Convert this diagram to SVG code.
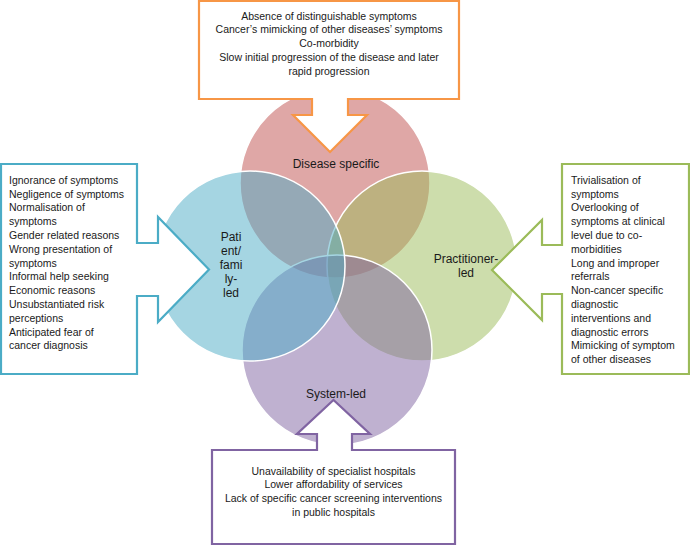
<svg xmlns="http://www.w3.org/2000/svg" width="690" height="545" viewBox="0 0 690 545">
<style>
.c{stroke:#ffffff;stroke-width:1.5}
.co{fill:#ffffff;stroke-width:2.2;stroke-linejoin:miter}
.t{font-family:"Liberation Sans",Arial,sans-serif;font-size:10.5px;fill:#1a1a1a}
.l{font-family:"Liberation Sans",Arial,sans-serif;font-size:12px;fill:#1a1a1a;text-anchor:middle}
.m{text-anchor:middle}
</style>
<rect width="690" height="545" fill="#ffffff"/>
<g id="circles">
<g id="disease-specific">
<circle class="c" cx="335" cy="183" r="95" fill="#C0504D" fill-opacity="0.5"/>
</g>
<g id="practitioner-led">
<circle class="c" cx="422" cy="266" r="95" fill="#9BBB59" fill-opacity="0.5"/>
</g>
<g id="system-led">
<circle class="c" cx="337" cy="350" r="95" fill="#8064A2" fill-opacity="0.5"/>
</g>
<g id="patient-led">
<circle class="c" cx="250" cy="266" r="95" fill="#4BACC6" fill-opacity="0.5"/>
</g>
</g>
<g id="circle-labels">
<text class="l" x="336" y="168">Disease specific</text>
<text class="l" x="231" y="241">Pati</text>
<text class="l" x="231" y="255">ent/</text>
<text class="l" x="231" y="269">fami</text>
<text class="l" x="231" y="283">ly-</text>
<text class="l" x="231" y="297">led</text>
<text class="l" x="466" y="263">Practitioner-</text>
<text class="l" x="466" y="277">led</text>
<text class="l" x="336" y="398">System-led</text>
</g>
<g id="connectors">
<g id="callout-top">
<polygon class="co" stroke="#F79646" points="199,1 459,1 459,99 348,99 348,115 367,115 330,152 293,115 312,115 312,99 199,99"/>
<text class="t m" x="329" y="19.5">Absence of distinguishable symptoms</text>
<text class="t m" x="329" y="33.3">Cancer’s mimicking of other diseases’ symptoms</text>
<text class="t m" x="329" y="47.1">Co-morbidity</text>
<text class="t m" x="329" y="60.9">Slow initial progression of the disease and later</text>
<text class="t m" x="329" y="74.7">rapid progression</text>
</g>
<g id="callout-left">
<polygon class="co" stroke="#4BACC6" points="1,164 137,164 137,243 158,243 158,217 209,269.5 158,322 158,296 137,296 137,374 1,374"/>
<text class="t" x="9" y="183.7">Ignorance of symptoms</text>
<text class="t" x="9" y="197.5">Negligence of symptoms</text>
<text class="t" x="9" y="211.3">Normalisation  of</text>
<text class="t" x="9" y="225.1">symptoms</text>
<text class="t" x="9" y="238.9">Gender related reasons</text>
<text class="t" x="9" y="252.7">Wrong presentation of</text>
<text class="t" x="9" y="266.5">symptoms</text>
<text class="t" x="9" y="280.3">Informal help seeking</text>
<text class="t" x="9" y="294.1">Economic reasons</text>
<text class="t" x="9" y="307.9">Unsubstantiated risk</text>
<text class="t" x="9" y="321.7">perceptions</text>
<text class="t" x="9" y="335.5">Anticipated fear of</text>
<text class="t" x="9" y="349.3">cancer diagnosis</text>
</g>
<g id="callout-right">
<polygon class="co" stroke="#9BBB59" points="562,164 689,164 689,374 562,374 562,294 542,294 542,320 492,270 542,220 542,245 562,245"/>
<text class="t" x="571" y="183.7">Trivialisation of</text>
<text class="t" x="571" y="197.5">symptoms</text>
<text class="t" x="571" y="211.3">Overlooking of</text>
<text class="t" x="571" y="225.1">symptoms at clinical</text>
<text class="t" x="571" y="238.9">level due to co-</text>
<text class="t" x="571" y="252.7">morbidities</text>
<text class="t" x="571" y="266.5">Long and improper</text>
<text class="t" x="571" y="280.3">referrals</text>
<text class="t" x="571" y="294.1">Non-cancer specific</text>
<text class="t" x="571" y="307.9">diagnostic</text>
<text class="t" x="571" y="321.7">interventions and</text>
<text class="t" x="571" y="335.5">diagnostic errors</text>
<text class="t" x="571" y="349.3">Mimicking of symptom</text>
<text class="t" x="571" y="363.1">of other diseases</text>
</g>
<g id="callout-bottom">
<polygon class="co" stroke="#8064A2" points="212,450 317,450 317,434 297,434 333.5,400 370,434 352,434 352,450 455,450 455,544 212,544"/>
<text class="t m" x="333.5" y="474.7">Unavailability of specialist hospitals</text>
<text class="t m" x="333.5" y="488.3">Lower affordability of services</text>
<text class="t m" x="333.5" y="501.9">Lack of specific cancer screening interventions</text>
<text class="t m" x="333.5" y="515.5">in public hospitals</text>
</g>
</g>
</svg>
